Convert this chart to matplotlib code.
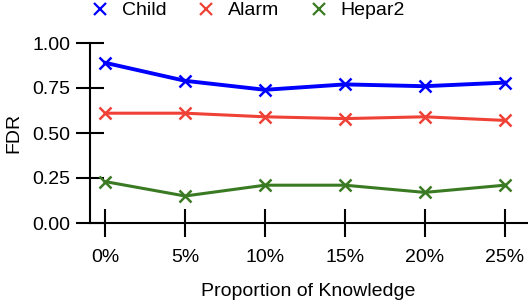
import matplotlib
matplotlib.use("Agg")
import matplotlib.pyplot as plt
from matplotlib.lines import Line2D

plt.rcParams["font.family"] = ["Liberation Sans", "DejaVu Sans"]

knowledge = ["0%", "5%", "10%", "15%", "20%", "25%"]
child = [0.89, 0.79, 0.74, 0.77, 0.76, 0.78]
alarm = [0.61, 0.61, 0.59, 0.58, 0.59, 0.57]
hepar2 = [0.23, 0.15, 0.21, 0.21, 0.17, 0.21]

series = [("Child", child, "#0000ff", 2.8),
          ("Alarm", alarm, "#ef4136", 2.2),
          ("Hepar2", hepar2, "#3a7a22", 2.2)]

fig = plt.figure(figsize=(5.28, 3.05), dpi=100)
ax = fig.add_axes([90 / 528, 82 / 305, 437 / 528, 180 / 305])

xs = list(range(len(knowledge)))
handles = []
for name, vals, col, lw in series:
    ax.plot(xs, vals, color=col, lw=lw, marker="x", markersize=8.5, mew=1.8)
    handles.append(Line2D([], [], color=col, marker="x", ls="none",
                          markersize=8, mew=1.6, label=name))

ax.set_xlim(-0.19, 5.28)
ax.set_ylim(0, 1)
ax.set_xticks(xs)
ax.set_xticklabels(knowledge)
ax.set_yticks([0, 0.25, 0.5, 0.75, 1.0])
ax.set_yticklabels(["0.00", "0.25", "0.50", "0.75", "1.00"])
ax.tick_params(axis="both", direction="inout", length=20, width=1.5,
               labelsize=14, colors="black")
ax.tick_params(axis="x", pad=9)
ax.tick_params(axis="y", pad=4)
for s in ["top", "right"]:
    ax.spines[s].set_visible(False)
for s in ["left", "bottom"]:
    ax.spines[s].set_linewidth(1.5)

ax.set_xlabel("Proportion of Knowledge", fontsize=14, labelpad=12)
ax.set_ylabel("FDR", fontsize=14, labelpad=7)

fig.legend(handles=handles, loc="center", bbox_to_anchor=(0.469, 0.965),
           ncol=3, frameon=False, fontsize=14, handlelength=1.0,
           handletextpad=0.6, columnspacing=1.55)

fig.savefig("out.png", dpi=100)
